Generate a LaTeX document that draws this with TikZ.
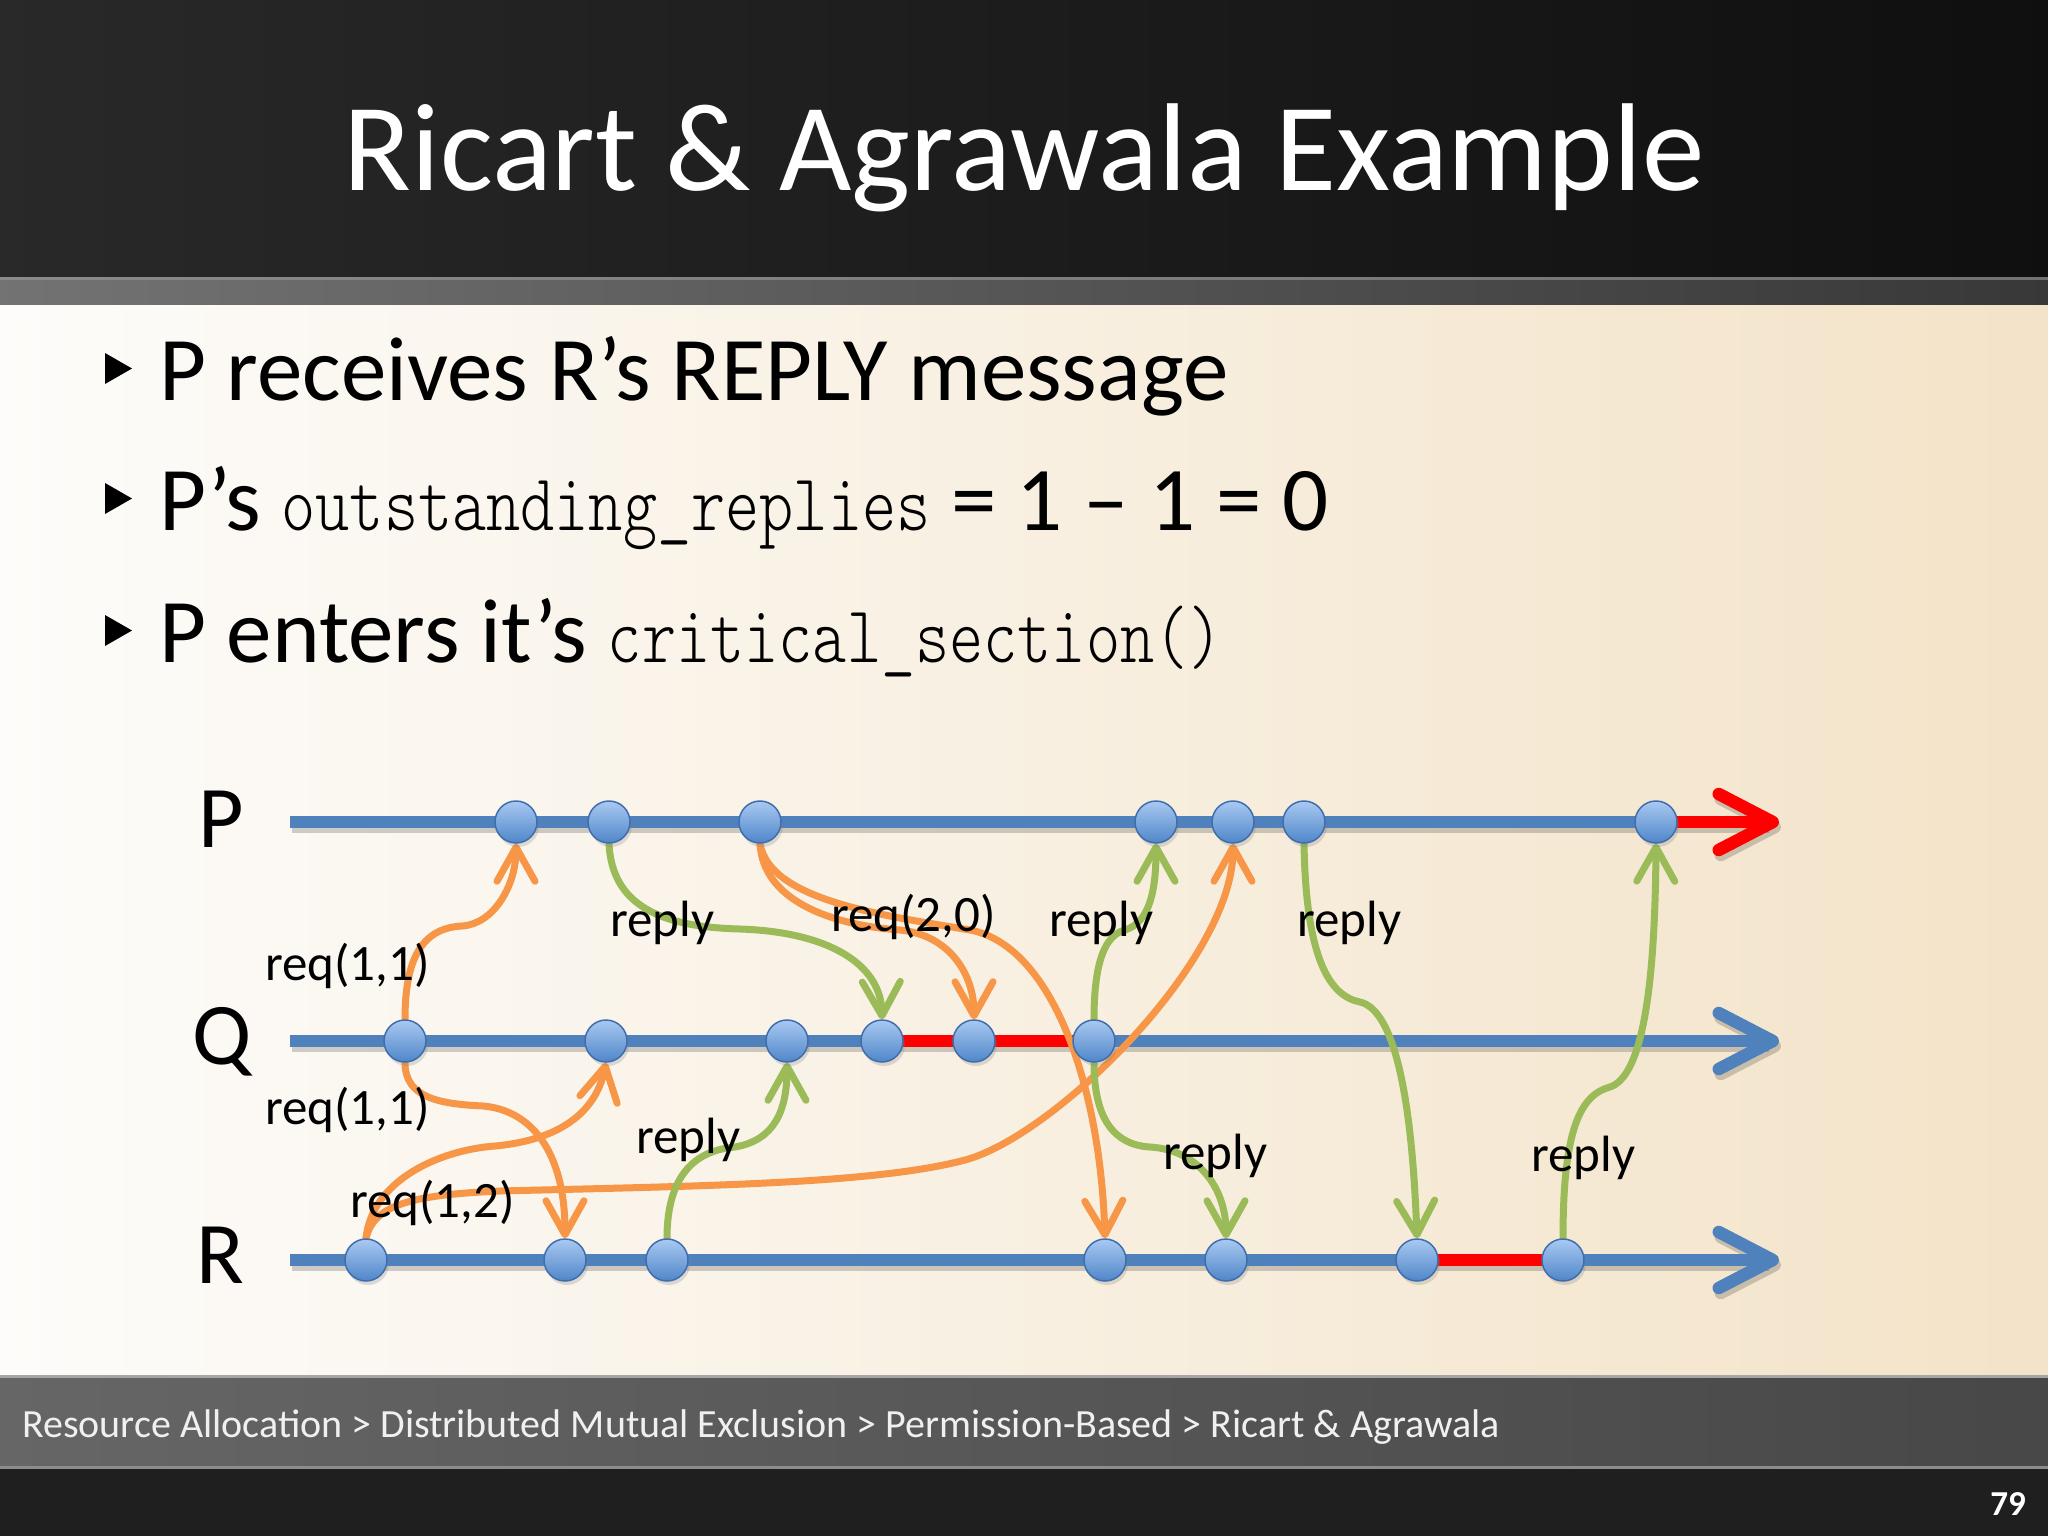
\documentclass[tikz,border=0pt]{standalone}
\usepackage{fontspec}
\setmainfont{Carlito}
\newfontfamily\codefont{lmmonolt10-regular.otf}
\usepackage{graphicx}
\usetikzlibrary{arrows.meta,shadows}
\definecolor{lineblue}{HTML}{4F81BD}
\definecolor{msgorange}{HTML}{F79646}
\definecolor{msggreen}{HTML}{9BBB59}
\definecolor{evtop}{HTML}{A9C9F2}
\definecolor{evbot}{HTML}{4F86C8}
\definecolor{evdraw}{HTML}{3F6EAE}
\definecolor{redseg}{HTML}{FF0000}
\pgfdeclarelayer{bg}
\pgfdeclarelayer{mid}
\pgfsetlayers{bg,mid,main}
\newcommand{\codetxt}[1]{\scalebox{0.803}[1]{\fontsize{81}{90}\codefont #1}}
\begin{document}
\begin{tikzpicture}[x=1pt,y=-1pt,
  tl/.style={line width=12.5pt, draw=lineblue, -{Straight Barb[length=54pt,width=56pt,round]}},
  tlplain/.style={line width=12.5pt, draw=lineblue},
  tlshadow/.style={line width=12.5pt, draw=black, opacity=0.18},
  crit/.style={line width=12.5pt, draw=redseg},
  ev/.style={circle, minimum size=42pt, inner sep=0pt, top color=evtop, bottom color=evbot, draw=evdraw, line width=1.5pt, drop shadow={shadow xshift=2pt, shadow yshift=-4pt, opacity=0.25}},
  req/.style={draw=msgorange, line width=7pt, line cap=round, -{Straight Barb[length=34pt,width=38pt,round]}},
  rep/.style={draw=msggreen, line width=7pt, line cap=round, -{Straight Barb[length=34pt,width=38pt,round]}},
  lab/.style={font=\fontsize{51}{58}\selectfont, anchor=base west, inner sep=0pt, text=black},
  proc/.style={font=\fontsize{88}{100}\selectfont, anchor=base, inner sep=0pt, text=black},
  bul/.style={font=\fontsize{91}{100}\selectfont, anchor=base west, inner sep=0pt, text=black},
  tri/.style={fill=black}
]
\useasboundingbox (0,0) rectangle (2048,1536);
\begin{pgfonlayer}{bg}
% backgrounds
\fill[left color=black!84, right color=black!94] (0,0) rectangle (2048,277);
\fill[left color=black!55, right color=black!78] (0,277) rectangle (2048,305);
\fill[black!40, opacity=0.6] (0,277) rectangle (2048,280);
\fill[left color={rgb,255:red,253;green,252;blue,250}, middle color={rgb,255:red,253;green,250;blue,245}, right color={rgb,255:red,243;green,227;blue,200}] (0,305) rectangle (2048,1375);
\fill[left color=black!60, right color=black!72] (0,1375) rectangle (2048,1468);
\fill[black!35] (0,1375) rectangle (2048,1378);
\fill[black!45] (0,1466) rectangle (2048,1469);
\fill[black!88] (0,1469) rectangle (2048,1536);
% timelines
\coordinate (Ps) at (290,822); \coordinate (Pe) at (1779,822);
\coordinate (Qs) at (290,1041); \coordinate (Qe) at (1779,1041);
\coordinate (Rs) at (290,1260); \coordinate (Re) at (1779,1260);
\draw[tlshadow, -{Straight Barb[length=54pt,width=56pt,round]}] ([shift={(2,5)}]Ps) -- ([shift={(2,5)}]Pe);
\draw[tlshadow, -{Straight Barb[length=54pt,width=56pt,round]}] ([shift={(2,5)}]Qs) -- ([shift={(2,5)}]Qe);
\draw[tlshadow, -{Straight Barb[length=54pt,width=56pt,round]}] ([shift={(2,5)}]Rs) -- ([shift={(2,5)}]Re);
\draw[tl] (Qs) -- (Qe);
\draw[tl] (Rs) -- (Re);
\end{pgfonlayer}
% events
\node[ev] (P1) at (516,822) {};
\node[ev] (P2) at (609,822) {};
\node[ev] (P3) at (760,822) {};
\node[ev] (P4) at (1156,822) {};
\node[ev] (P5) at (1233,822) {};
\node[ev] (P6) at (1304,822) {};
\node[ev] (P7) at (1656,822) {};
\node[ev] (Q1) at (405,1041) {};
\node[ev] (Q2) at (606,1041) {};
\node[ev] (Q3) at (787,1041) {};
\node[ev] (Q4) at (882,1041) {};
\node[ev] (Q5) at (974,1041) {};
\node[ev] (Q6) at (1094,1041) {};
\node[ev] (R1) at (366,1260) {};
\node[ev] (R2) at (565,1260) {};
\node[ev] (R3) at (667,1260) {};
\node[ev] (R4) at (1105,1260) {};
\node[ev] (R5) at (1226,1260) {};
\node[ev] (R6) at (1417,1260) {};
\node[ev] (R7) at (1563,1260) {};
\begin{pgfonlayer}{bg}
\draw[tlplain] (Ps) -- (P7.center);
\draw[crit, -{Straight Barb[length=54pt,width=56pt,round]}] (P7.center) -- (Pe);
\draw[crit] (Q4.center) -- (Q6.center);
\draw[crit] (R6.center) -- (R7.center);
\end{pgfonlayer}
\begin{pgfonlayer}{mid}
% requests
\draw[req] (Q1.north) .. controls (405,962) and (420,928) .. (462,926) .. controls (494,924) and (516,885) .. (P1.south);
\draw[req] (Q1.south) .. controls (405,1098) and (440,1104) .. (483,1106) .. controls (530,1110) and (565,1150) .. (R2.north);
\draw[req] (R1.north) .. controls (372,1180) and (440,1150) .. (495,1146) .. controls (560,1140) and (596,1112) .. (Q2.south);
\draw[req] (R1.north) .. controls (374,1205) and (410,1195) .. (500,1191) .. controls (700,1186) and (875,1184) .. (965,1160) .. controls (1055,1136) and (1233,960) .. (P5.south);
\draw[req] (P3.south) .. controls (763,900) and (830,925) .. (900,930) .. controls (950,935) and (974,975) .. (Q5.north);
\draw[req] (P3.south) .. controls (770,900) and (880,915) .. (970,930) .. controls (1050,945) and (1100,1080) .. (R4.north);
% replies
\draw[rep] (P2.south) .. controls (612,905) and (660,927) .. (740,929) .. controls (830,932) and (881,965) .. (Q4.north);
\draw[rep] (R3.north) .. controls (667,1170) and (700,1150) .. (735,1147) .. controls (775,1140) and (787,1110) .. (Q3.south);
\draw[rep] (Q6.north) .. controls (1094,962) and (1105,935) .. (1125,930) .. controls (1150,922) and (1156,890) .. (P4.south);
\draw[rep] (Q6.south) .. controls (1094,1120) and (1115,1145) .. (1150,1147) .. controls (1200,1150) and (1226,1190) .. (R5.north);
\draw[rep] (P6.south) .. controls (1306,960) and (1330,996) .. (1360,1002) .. controls (1395,1010) and (1412,1100) .. (R6.north);
\draw[rep] (R7.north) .. controls (1563,1130) and (1580,1095) .. (1610,1087) .. controls (1640,1077) and (1655,1000) .. (P7.south);
\end{pgfonlayer}
% message labels
\node[lab] (l1) at (265,980) {req(1,1)};
\node[lab] (l2) at (265,1124) {req(1,1)};
\node[lab] (l3) at (350,1217) {req(1,2)};
\node[lab] (l4) at (610,936) {reply};
\node[lab] (l5) at (831,931) {req(2,0)};
\node[lab] (l6) at (1049,936) {reply};
\node[lab] (l7) at (1297,936) {reply};
\node[lab] (l8) at (636,1153) {reply};
\node[lab] (l9) at (1163,1169) {reply};
\node[lab] (l10) at (1531,1171) {reply};
% process names
\node[proc] (nP) at (221,847) {P};
\node[proc] (nQ) at (222,1064) {Q};
\node[proc] (nR) at (220,1283) {R};
% title
\node[font=\fontsize{125}{140}\selectfont, text=white, anchor=base, inner sep=0pt] (title) at (1024,190) {Ricart \& Agrawala Example};
% bullets
\fill[tri] (105,353) -- (132,368.5) -- (105,384) -- cycle;
\fill[tri] (105,483) -- (132,498.5) -- (105,514) -- cycle;
\fill[tri] (105,615) -- (132,630.5) -- (105,646) -- cycle;
\node[bul] (b1) at (159,400) {P receives R’s REPLY message};
\node[bul] (b2) at (159,530) {P’s \codetxt{outstanding\_replies} = 1 – 1 = 0};
\node[bul] (b3) at (159,662) {P enters it’s \codetxt{critical\_section()}};
% footer
\node[font=\fontsize{40}{46}\selectfont, text=white!94!black, anchor=base west, inner sep=0pt] (foot) at (22,1437) {Resource Allocation > Distributed Mutual Exclusion > Permission-Based > Ricart \& Agrawala};
\node[font=\fontsize{35}{42}\selectfont\bfseries, text=white, anchor=base east, inner sep=0pt] (page) at (2026,1515) {79};
\end{tikzpicture}
\end{document}
